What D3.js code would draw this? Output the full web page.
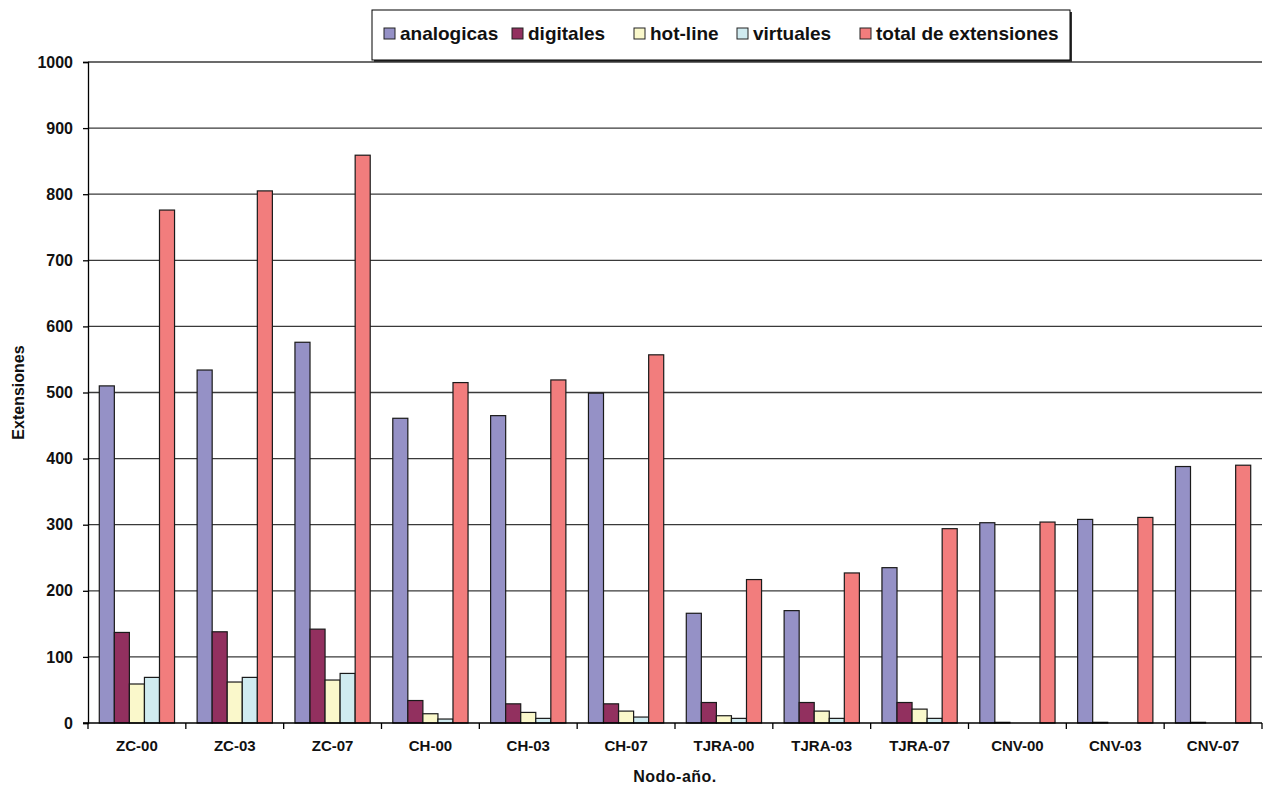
<!DOCTYPE html>
<html>
<head>
<meta charset="utf-8">
<script src="https://cdn.jsdelivr.net/npm/d3@7.9.0/dist/d3.min.js"></script>
<style>
  html, body { margin: 0; padding: 0; background: #fff; }
  svg { display: block; font-family: "Liberation Sans", Arial, sans-serif; }
</style>
</head>
<body>
<svg id="chart"></svg>
<script>
// data
const categories = ["ZC-00", "ZC-03", "ZC-07", "CH-00", "CH-03", "CH-07",
                    "TJRA-00", "TJRA-03", "TJRA-07", "CNV-00", "CNV-03", "CNV-07"];
const analogicas = [510, 534, 576, 461, 465, 499, 166, 170, 235, 303, 308, 388];
const digitales  = [137, 138, 142, 34, 29, 29, 31, 31, 31, 1, 1, 1];
const hotLine    = [59, 62, 65, 14, 16, 18, 11, 18, 21, 0, 0, 0];
const virtuales  = [69, 69, 75, 6, 7, 9, 7, 7, 7, 0, 0, 0];
const totalExt   = [776, 805, 859, 515, 519, 557, 217, 227, 294, 304, 311, 390];
const yTicks     = [0, 100, 200, 300, 400, 500, 600, 700, 800, 900, 1000];

const seriesNames  = ["analogicas", "digitales", "hot-line", "virtuales", "total de extensiones"];
const seriesValues = [analogicas, digitales, hotLine, virtuales, totalExt];
const seriesColors = ["#9591C6", "#92305F", "#FAF8CB", "#D0EBF0", "#F27D7D"];

const width = 1264, height = 787;
const margin = { left: 88, right: 2, top: 62, bottom: 64 };

const svg = d3.select("#chart")
    .attr("width", width)
    .attr("height", height);

const x = d3.scaleBand()
    .domain(categories)
    .range([margin.left, width - margin.right])
    .paddingInner(0)
    .paddingOuter(0);

// Excel style: gap of 150% of one bar width between clusters
const barW = x.bandwidth() / 6.5;
const xs = d3.scaleBand()
    .domain(seriesNames)
    .range([barW * 0.75, x.bandwidth() - barW * 0.75]);

const y = d3.scaleLinear()
    .domain([0, 1000])
    .range([height - margin.bottom, margin.top]);

// gridlines
svg.append("g")
    .selectAll("line")
    .data(yTicks.filter(d => d > 0))
    .enter()
    .append("line")
    .attr("x1", margin.left)
    .attr("x2", width - margin.right)
    .attr("y1", d => y(d))
    .attr("y2", d => y(d))
    .attr("stroke", "#3a3a3a")
    .attr("stroke-width", 1.3);

// bars
const rows = [];
categories.forEach((c, i) => {
    seriesNames.forEach((s, j) => {
        rows.push({ cat: c, series: s, value: seriesValues[j][i], color: seriesColors[j] });
    });
});

svg.append("g")
    .selectAll("rect")
    .data(rows.filter(d => d.value > 0))
    .enter()
    .append("rect")
    .attr("x", d => x(d.cat) + xs(d.series))
    .attr("width", xs.bandwidth())
    .attr("y", d => y(d.value))
    .attr("height", d => y(0) - y(d.value))
    .attr("fill", d => d.color)
    .attr("stroke", "#1a1a1a")
    .attr("stroke-width", 1.2);

// y axis
const yAxis = svg.append("g")
    .attr("transform", `translate(${margin.left},0)`)
    .call(d3.axisLeft(y).tickValues(yTicks).tickSize(5).tickPadding(10).tickFormat(d3.format("d")));
yAxis.select(".domain").attr("stroke", "#000").attr("stroke-width", 1.3);
yAxis.selectAll(".tick line").attr("stroke", "#000").attr("stroke-width", 1.3);
yAxis.selectAll(".tick text")
    .attr("font-size", 16)
    .attr("font-weight", "bold")
    .attr("font-family", "Liberation Sans, Arial, sans-serif")
    .attr("fill", "#111");

// x axis: ticks at cluster boundaries
const xAxisG = svg.append("g")
    .attr("transform", `translate(0,${y(0)})`);
xAxisG.append("line")
    .attr("x1", margin.left - 5)
    .attr("x2", width - margin.right)
    .attr("stroke", "#000")
    .attr("stroke-width", 1.3);
const bounds = categories.map(c => x(c)).concat([x(categories[categories.length - 1]) + x.bandwidth()]);
xAxisG.selectAll(".bound")
    .data(bounds)
    .enter()
    .append("line")
    .attr("class", "bound")
    .attr("x1", d => d)
    .attr("x2", d => d)
    .attr("y1", 0)
    .attr("y2", 6)
    .attr("stroke", "#000")
    .attr("stroke-width", 1.3);
xAxisG.selectAll(".lbl")
    .data(categories)
    .enter()
    .append("text")
    .attr("class", "lbl")
    .attr("x", d => x(d) + x.bandwidth() / 2)
    .attr("y", 28)
    .attr("text-anchor", "middle")
    .attr("font-size", 15)
    .attr("font-weight", "bold")
    .attr("fill", "#111")
    .text(d => d);

// axis titles
svg.append("text")
    .attr("x", (margin.left + width - margin.right) / 2)
    .attr("y", 782)
    .attr("text-anchor", "middle")
    .attr("font-size", 16)
    .attr("font-weight", "bold")
    .attr("letter-spacing", 0.5)
    .attr("fill", "#111")
    .text("Nodo-año.");

svg.append("text")
    .attr("transform", `translate(24,${(margin.top + height - margin.bottom) / 2}) rotate(-90)`)
    .attr("text-anchor", "middle")
    .attr("font-size", 16)
    .attr("font-weight", "bold")
    .attr("fill", "#111")
    .text("Extensiones");

// legend
const legend = svg.append("g");
const lx = 372, ly = 10, lw = 698, lh = 50;
legend.append("rect")
    .attr("x", lx + 2).attr("y", ly + 2)
    .attr("width", lw).attr("height", lh)
    .attr("fill", "#333");
legend.append("rect")
    .attr("x", lx).attr("y", ly)
    .attr("width", lw).attr("height", lh)
    .attr("fill", "#fff")
    .attr("stroke", "#000")
    .attr("stroke-width", 1);

const legendX = [384, 512, 634, 737, 860];
seriesNames.forEach((s, i) => {
    legend.append("rect")
        .attr("x", legendX[i]).attr("y", 28)
        .attr("width", 11).attr("height", 11)
        .attr("fill", seriesColors[i])
        .attr("stroke", "#222")
        .attr("stroke-width", 1);
    legend.append("text")
        .attr("x", legendX[i] + 16)
        .attr("y", 40)
        .attr("font-size", 19)
        .attr("font-weight", "bold")
        .attr("fill", "#111")
        .text(s);
});
</script>
</body>
</html>
